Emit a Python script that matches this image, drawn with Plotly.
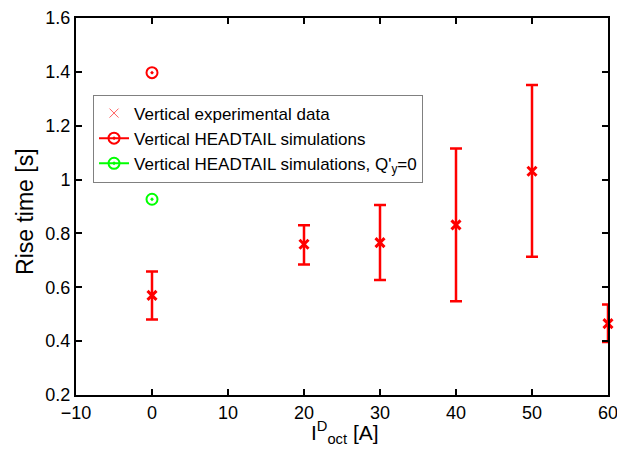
import plotly.graph_objects as go

# experimental data
exp_current = [0, 20, 30, 40, 50, 60]
exp_rise = [0.57, 0.76, 0.766, 0.832, 1.031, 0.465]
exp_err_hi = [0.659, 0.83, 0.906, 1.115, 1.351, 0.536]
exp_err_lo = [0.48, 0.685, 0.627, 0.548, 0.713, 0.397]

# HEADTAIL simulations
sim_current = [0]
sim_rise = [1.397]
sim_q0_current = [0]
sim_q0_rise = [0.927]

err_plus = [h - v for h, v in zip(exp_err_hi, exp_rise)]
err_minus = [v - l for v, l in zip(exp_rise, exp_err_lo)]

red = '#ff0000'
green = '#00ff00'

fig = go.Figure()

fig.add_trace(go.Scatter(
    x=exp_current, y=exp_rise, mode='markers', showlegend=False, cliponaxis=False,
    marker=dict(symbol='x-thin', size=9, color=red, line=dict(width=3, color=red)),
    error_y=dict(type='data', symmetric=False, array=err_plus, arrayminus=err_minus,
                 color=red, thickness=2.5, width=6)))

# legend entry for the experimental data (thin cross like the original)
fig.add_trace(go.Scatter(
    x=[None], y=[None], mode='markers', name='Vertical experimental data',
    marker=dict(symbol='x-thin', size=9, color='#ff6060', line=dict(width=1, color='#ff6060'))))

fig.add_trace(go.Scatter(
    x=sim_current, y=sim_rise, mode='lines+markers', name='Vertical HEADTAIL simulations',
    line=dict(color=red, width=2),
    marker=dict(symbol='circle-open-dot', size=11, color=red, line=dict(width=2, color=red))))

fig.add_trace(go.Scatter(
    x=sim_q0_current, y=sim_q0_rise, mode='lines+markers',
    name="Vertical HEADTAIL simulations, Q'<sub>y</sub>=0",
    line=dict(color=green, width=2),
    marker=dict(symbol='circle-open-dot', size=11, color=green, line=dict(width=2, color=green))))

axis_common = dict(
    showgrid=False, zeroline=False, showline=True, linecolor='black', linewidth=2,
    mirror='ticks', ticks='inside', ticklen=6, tickwidth=1.5, tickcolor='black',
    tickfont=dict(size=18, color='black'), automargin=False, ticklabeloverflow='allow')

fig.update_xaxes(range=[-10, 60], dtick=10, tick0=-10, **axis_common)
fig.update_yaxes(range=[0.2, 1.6001], dtick=0.2, tick0=0.2, **axis_common)

# axis titles as annotations so they sit where the original has them
fig.add_annotation(text='I<sup>D</sup><sub>oct</sub> [A]', xref='paper', yref='paper',
                   x=0.505, y=-0.056, xanchor='center', yanchor='top', showarrow=False,
                   font=dict(size=21, color='black'))
fig.add_annotation(text='Rise time [s]', xref='paper', yref='paper',
                   x=-0.096, y=0.488, xanchor='center', yanchor='middle', textangle=-90,
                   showarrow=False, font=dict(size=23, color='black'))

# page body has an 8px margin, so the figure is shrunk by that much
fig.update_layout(
    width=617, height=448,
    margin=dict(l=68, r=17, t=10, b=61),
    plot_bgcolor='white', paper_bgcolor='white',
    font=dict(family='Liberation Sans, Arial, sans-serif', color='black'),
    legend=dict(x=0.032, y=0.797, xanchor='left', yanchor='top',
                bgcolor='white', bordercolor='#808080', borderwidth=1,
                font=dict(size=17), tracegroupgap=0, itemwidth=30),
)

fig.write_html("out.html")
